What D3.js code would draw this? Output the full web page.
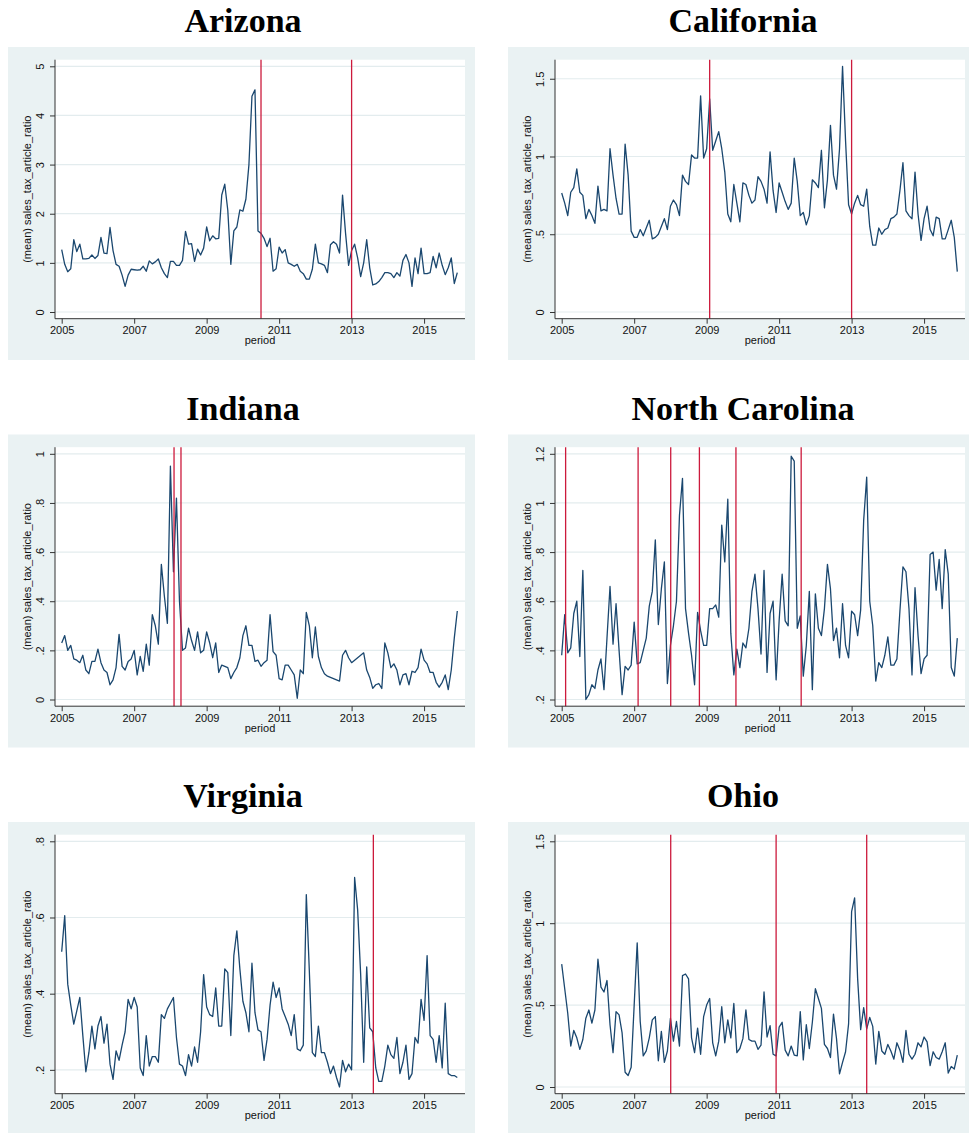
<!DOCTYPE html>
<html>
<head>
<meta charset="utf-8">
<script src="https://cdn.jsdelivr.net/npm/d3@7"></script>
<style>
  body { margin: 0; background: #fff; }
  .tick text { font-family: "Liberation Sans", Arial, sans-serif; font-size: 11px; fill: #111; }
  .axis-title { font-family: "Liberation Sans", Arial, sans-serif; font-size: 11px; fill: #111; }
  .state-title { font-family: "Liberation Serif", "Times New Roman", serif; font-weight: bold; font-size: 34px; fill: #000; }
</style>
</head>
<body>
<div id="chart"></div>
<script>
// monthly values, 2005m1 .. 2015m12 (132 months)
const arizona = [
  1.27, 0.97, 0.82, 0.88, 1.47, 1.23, 1.38, 1.08, 1.08, 1.09, 1.16, 1.09,
  1.15, 1.52, 1.20, 1.19, 1.72, 1.25, 0.97, 0.93, 0.75, 0.52, 0.75, 0.87,
  0.86, 0.85, 0.86, 0.93, 0.83, 1.04, 0.98, 1.02, 1.08, 0.90, 0.78, 0.70,
  1.03, 1.03, 0.95, 0.95, 1.05, 1.64, 1.38, 1.39, 1.03, 1.28, 1.16, 1.30,
  1.73, 1.45, 1.55, 1.49, 1.50, 2.38, 2.60, 2.07, 0.97, 1.65, 1.73, 2.08,
  2.05, 2.30, 3.00, 4.39, 4.52, 1.65, 1.60, 1.50, 1.33, 1.50, 0.83, 0.88,
  1.32, 1.20, 1.27, 1.00, 0.97, 0.93, 0.97, 0.83, 0.78, 0.67, 0.67, 0.87,
  1.38, 1.00, 0.98, 0.95, 0.80, 1.37, 1.43, 1.38, 1.20, 2.38, 1.60, 0.95,
  1.25, 1.38, 1.10, 0.72, 1.00, 1.47, 0.90, 0.55, 0.57, 0.62, 0.70, 0.80,
  0.80, 0.78, 0.70, 0.80, 0.73, 1.05, 1.17, 1.00, 0.52, 1.10, 0.78, 1.30,
  0.78, 0.78, 0.80, 1.13, 0.90, 1.20, 0.95, 0.76, 0.90, 1.10, 0.58, 0.80
];
const california = [
  0.765, 0.70, 0.62, 0.77, 0.80, 0.92, 0.77, 0.75, 0.60, 0.66, 0.62, 0.57,
  0.81, 0.65, 0.66, 0.65, 1.05, 0.88, 0.73, 0.63, 0.63, 1.08, 0.88, 0.52,
  0.48, 0.48, 0.53, 0.49, 0.54, 0.59, 0.47, 0.48, 0.50, 0.55, 0.60, 0.53,
  0.68, 0.72, 0.69, 0.62, 0.88, 0.84, 0.82, 1.01, 0.99, 0.99, 1.39, 0.99,
  1.05, 1.37, 1.04, 1.10, 1.16, 1.05, 0.90, 0.63, 0.58, 0.82, 0.70, 0.58,
  0.83, 0.82, 0.75, 0.70, 0.72, 0.87, 0.84, 0.79, 0.70, 1.03, 0.78, 0.64,
  0.83, 0.77, 0.71, 0.66, 0.70, 0.99, 0.84, 0.62, 0.64, 0.56, 0.62, 0.85,
  0.83, 0.80, 1.04, 0.67, 0.85, 1.20, 0.88, 0.79, 1.05, 1.58, 1.10, 0.69,
  0.63, 0.70, 0.75, 0.69, 0.68, 0.79, 0.55, 0.43, 0.43, 0.54, 0.50, 0.53,
  0.54, 0.60, 0.61, 0.63, 0.78, 0.96, 0.65, 0.62, 0.60, 0.90, 0.63, 0.46,
  0.60, 0.68, 0.53, 0.49, 0.61, 0.60, 0.47, 0.47, 0.53, 0.59, 0.48, 0.26
];
const indiana = [
  0.23, 0.26, 0.20, 0.22, 0.165, 0.16, 0.15, 0.18, 0.12, 0.105, 0.155, 0.155,
  0.205, 0.15, 0.12, 0.11, 0.06, 0.08, 0.13, 0.265, 0.135, 0.12, 0.155, 0.165,
  0.20, 0.10, 0.175, 0.115, 0.225, 0.14, 0.345, 0.30, 0.225, 0.55, 0.42, 0.31,
  0.95, 0.52, 0.82, 0.40, 0.20, 0.21, 0.29, 0.24, 0.20, 0.275, 0.19, 0.20,
  0.275, 0.23, 0.17, 0.23, 0.11, 0.14, 0.135, 0.13, 0.085, 0.11, 0.13, 0.17,
  0.26, 0.30, 0.22, 0.22, 0.155, 0.16, 0.135, 0.15, 0.16, 0.345, 0.195, 0.18,
  0.085, 0.08, 0.14, 0.14, 0.12, 0.10, 0.005, 0.12, 0.105, 0.355, 0.30, 0.17,
  0.295, 0.175, 0.13, 0.105, 0.095, 0.09, 0.085, 0.08, 0.075, 0.18, 0.20, 0.17,
  0.15, 0.16, 0.17, 0.18, 0.19, 0.12, 0.09, 0.045, 0.06, 0.065, 0.045, 0.23,
  0.19, 0.13, 0.145, 0.12, 0.06, 0.10, 0.105, 0.06, 0.115, 0.11, 0.13, 0.205,
  0.16, 0.145, 0.11, 0.11, 0.07, 0.05, 0.07, 0.10, 0.04, 0.12, 0.25, 0.36
];
const northCarolina = [
  0.38, 0.545, 0.39, 0.41, 0.55, 0.60, 0.375, 0.725, 0.20, 0.22, 0.26, 0.245,
  0.32, 0.365, 0.24, 0.45, 0.66, 0.425, 0.59, 0.40, 0.22, 0.335, 0.32, 0.34,
  0.515, 0.345, 0.35, 0.40, 0.45, 0.58, 0.64, 0.85, 0.505, 0.65, 0.76, 0.265,
  0.42, 0.50, 0.60, 0.95, 1.10, 0.57, 0.47, 0.38, 0.26, 0.555, 0.48, 0.42,
  0.42, 0.57, 0.57, 0.585, 0.535, 0.91, 0.76, 1.015, 0.47, 0.30, 0.405, 0.33,
  0.43, 0.41, 0.49, 0.64, 0.71, 0.57, 0.385, 0.725, 0.31, 0.55, 0.60, 0.28,
  0.52, 0.71, 0.52, 0.50, 1.19, 1.17, 0.49, 0.54, 0.295, 0.42, 0.64, 0.24,
  0.63, 0.49, 0.46, 0.57, 0.75, 0.65, 0.44, 0.49, 0.37, 0.59, 0.42, 0.37,
  0.56, 0.545, 0.46, 0.565, 0.93, 1.105, 0.60, 0.50, 0.275, 0.35, 0.33, 0.38,
  0.455, 0.34, 0.34, 0.365, 0.56, 0.74, 0.72, 0.57, 0.30, 0.655, 0.46, 0.305,
  0.365, 0.38, 0.79, 0.80, 0.645, 0.77, 0.57, 0.81, 0.71, 0.33, 0.295, 0.45
];
const virginia = [
  0.51, 0.605, 0.425, 0.37, 0.32, 0.355, 0.39, 0.29, 0.195, 0.245, 0.315, 0.255,
  0.315, 0.34, 0.27, 0.32, 0.215, 0.175, 0.25, 0.225, 0.265, 0.30, 0.385, 0.36,
  0.39, 0.365, 0.205, 0.185, 0.29, 0.21, 0.235, 0.235, 0.22, 0.345, 0.335, 0.36,
  0.375, 0.39, 0.285, 0.215, 0.21, 0.185, 0.24, 0.21, 0.26, 0.22, 0.30, 0.45,
  0.365, 0.345, 0.34, 0.415, 0.315, 0.315, 0.465, 0.455, 0.29, 0.50, 0.565, 0.465,
  0.38, 0.35, 0.30, 0.48, 0.35, 0.305, 0.30, 0.225, 0.28, 0.37, 0.43, 0.39,
  0.415, 0.36, 0.34, 0.32, 0.29, 0.345, 0.255, 0.25, 0.265, 0.66, 0.46, 0.245,
  0.235, 0.315, 0.245, 0.245, 0.22, 0.19, 0.21, 0.18, 0.155, 0.225, 0.195, 0.215,
  0.20, 0.705, 0.62, 0.45, 0.22, 0.47, 0.31, 0.30, 0.205, 0.17, 0.17, 0.21,
  0.265, 0.24, 0.23, 0.285, 0.19, 0.22, 0.265, 0.175, 0.19, 0.285, 0.27, 0.385,
  0.33, 0.50, 0.29, 0.28, 0.22, 0.29, 0.205, 0.375, 0.19, 0.185, 0.185, 0.18
];
const ohio = [
  0.75, 0.60, 0.45, 0.25, 0.345, 0.30, 0.23, 0.29, 0.42, 0.47, 0.39, 0.47,
  0.78, 0.61, 0.58, 0.65, 0.38, 0.21, 0.46, 0.44, 0.33, 0.09, 0.07, 0.12,
  0.50, 0.88, 0.40, 0.19, 0.22, 0.30, 0.41, 0.43, 0.16, 0.34, 0.15, 0.22,
  0.42, 0.28, 0.40, 0.25, 0.68, 0.69, 0.66, 0.30, 0.21, 0.36, 0.20, 0.43,
  0.50, 0.54, 0.27, 0.19, 0.28, 0.49, 0.27, 0.41, 0.30, 0.51, 0.21, 0.235,
  0.295, 0.47, 0.29, 0.28, 0.28, 0.23, 0.255, 0.58, 0.305, 0.375, 0.20, 0.19,
  0.365, 0.395, 0.225, 0.19, 0.25, 0.195, 0.19, 0.46, 0.165, 0.38, 0.235, 0.395,
  0.60, 0.54, 0.48, 0.26, 0.235, 0.18, 0.445, 0.295, 0.08, 0.15, 0.215, 0.385,
  1.07, 1.155, 0.66, 0.35, 0.485, 0.355, 0.425, 0.37, 0.14, 0.34, 0.22, 0.20,
  0.26, 0.22, 0.17, 0.27, 0.225, 0.15, 0.345, 0.20, 0.17, 0.20, 0.27, 0.245,
  0.305, 0.275, 0.13, 0.215, 0.18, 0.17, 0.215, 0.27, 0.085, 0.125, 0.11, 0.195
];

// event lines, in months since 2005m1
const arizonaEvents = [66, 96];
const californiaEvents = [49, 96];
const indianaEvents = [37.2, 39.5];
const northCarolinaEvents = [1.3, 25.3, 36.1, 45.6, 57.7, 79.3];
const virginiaEvents = [103.2];
const ohioEvents = [36.1, 71, 101];

// y ticks for each panel
const arizonaTicks = [0, 1, 2, 3, 4, 5];
const californiaTicks = [0, 0.5, 1, 1.5];
const indianaTicks = [0, 0.2, 0.4, 0.6, 0.8, 1];
const northCarolinaTicks = [0.2, 0.4, 0.6, 0.8, 1, 1.2];
const virginiaTicks = [0.2, 0.4, 0.6, 0.8];
const ohioTicks = [0, 0.5, 1, 1.5];

// x ticks
const yearTicks = [0, 24, 48, 72, 96, 120];
const yearLabels = ["2005", "2007", "2009", "2011", "2013", "2015"];

const states = ["Arizona", "California", "Indiana", "North Carolina", "Virginia", "Ohio"];

const panels = [
  {name: states[0], values: arizona, events: arizonaEvents, ticks: arizonaTicks},
  {name: states[1], values: california, events: californiaEvents, ticks: californiaTicks},
  {name: states[2], values: indiana, events: indianaEvents, ticks: indianaTicks},
  {name: states[3], values: northCarolina, events: northCarolinaEvents, ticks: northCarolinaTicks},
  {name: states[4], values: virginia, events: virginiaEvents, ticks: virginiaTicks},
  {name: states[5], values: ohio, events: ohioEvents, ticks: ohioTicks}
];

const w = 969;
const h = 1133;
const panelW = 467;
const panelH = 313;
const colStep = 500;
const rowStep = 387.5;
const left0 = 8;
const top0 = 47;
// plot region inside a panel
const plotX0 = 47, plotX1 = 457, plotY0 = 12.7, plotY1 = 271.7;

const lineColor = "#1a476f";
const eventColor = "#cc1a3c";
const bgColor = "#eaf2f3";
const gridColor = "#e3ecee";

// stata style: drop leading zero
const fmt = (v) => {
  let s = String(+v.toFixed(2));
  if (s.startsWith("0.")) s = s.slice(1);
  return s;
};

const svg = d3.select("#chart")
  .append("svg")
  .attr("width", w)
  .attr("height", h);

panels.forEach((p, i) => {
  const col = i % 2;
  const row = Math.floor(i / 2);
  const g = svg.append("g")
    .attr("transform", `translate(${left0 + col * colStep},${top0 + row * rowStep})`);

  g.append("rect")
    .attr("width", panelW)
    .attr("height", panelH)
    .attr("fill", bgColor);

  g.append("rect")
    .attr("x", plotX0)
    .attr("y", plotY0)
    .attr("width", plotX1 - plotX0)
    .attr("height", plotY1 - plotY0)
    .attr("fill", "#fff");

  const xScale = d3.scaleLinear()
    .domain([0, p.values.length - 1])
    .range([53.7, 449.3]);
  const lo = Math.min(d3.min(p.values), p.ticks[0]);
  const hi = Math.max(d3.max(p.values), p.ticks[p.ticks.length - 1]);
  const yScale = d3.scaleLinear()
    .domain([lo, hi])
    .range([265, 19.3]);

  // grid
  g.selectAll(".grid")
    .data(p.ticks)
    .enter()
    .append("line")
    .attr("x1", plotX0)
    .attr("x2", plotX1)
    .attr("y1", (d) => yScale(d))
    .attr("y2", (d) => yScale(d))
    .attr("stroke", gridColor)
    .attr("stroke-width", 1.2);

  // series
  const line = d3.line()
    .x((d, j) => xScale(j))
    .y((d) => yScale(d));
  g.append("path")
    .datum(p.values)
    .attr("d", line)
    .attr("fill", "none")
    .attr("stroke", lineColor)
    .attr("stroke-width", 1.3)
    .attr("stroke-linejoin", "round");

  // event lines
  g.selectAll(".event")
    .data(p.events)
    .enter()
    .append("line")
    .attr("x1", (d) => xScale(d))
    .attr("x2", (d) => xScale(d))
    .attr("y1", plotY0)
    .attr("y2", plotY1)
    .attr("stroke", eventColor)
    .attr("stroke-width", 1.3);

  // axes
  const yAxis = d3.axisLeft(yScale)
    .tickValues(p.ticks)
    .tickFormat(fmt)
    .tickSize(5)
    .tickSizeOuter(0);
  const ya = g.append("g")
    .attr("transform", `translate(${plotX0},0)`)
    .call(yAxis);
  ya.select(".domain").attr("d", `M0,${plotY0}V${plotY1}`).attr("stroke", "#333");
  ya.selectAll(".tick line").attr("stroke", "#333");
  ya.selectAll(".tick text")
    .attr("x", null)
    .attr("dy", null)
    .attr("text-anchor", "middle")
    .attr("transform", "translate(-11,0) rotate(-90)");

  const xAxis = d3.axisBottom(xScale)
    .tickValues(yearTicks)
    .tickFormat((d, j) => yearLabels[j])
    .tickSize(5)
    .tickSizeOuter(0);
  const xa = g.append("g")
    .attr("transform", `translate(0,${plotY1})`)
    .call(xAxis);
  xa.select(".domain").attr("d", `M${plotX0},0H${plotX1}`).attr("stroke", "#333");
  xa.selectAll(".tick line").attr("stroke", "#333");

  // axis titles
  g.append("text")
    .attr("class", "axis-title")
    .attr("text-anchor", "middle")
    .attr("transform", `translate(23,${(plotY0 + plotY1) / 2}) rotate(-90)`)
    .text("(mean) sales_tax_article_ratio");

  g.append("text")
    .attr("class", "axis-title")
    .attr("text-anchor", "middle")
    .attr("x", (plotX0 + plotX1) / 2)
    .attr("y", 297)
    .text("period");

  // state title
  g.append("text")
    .attr("class", "state-title")
    .attr("text-anchor", "middle")
    .attr("x", 235)
    .attr("y", -15)
    .text(p.name);
});
</script>
</body>
</html>
